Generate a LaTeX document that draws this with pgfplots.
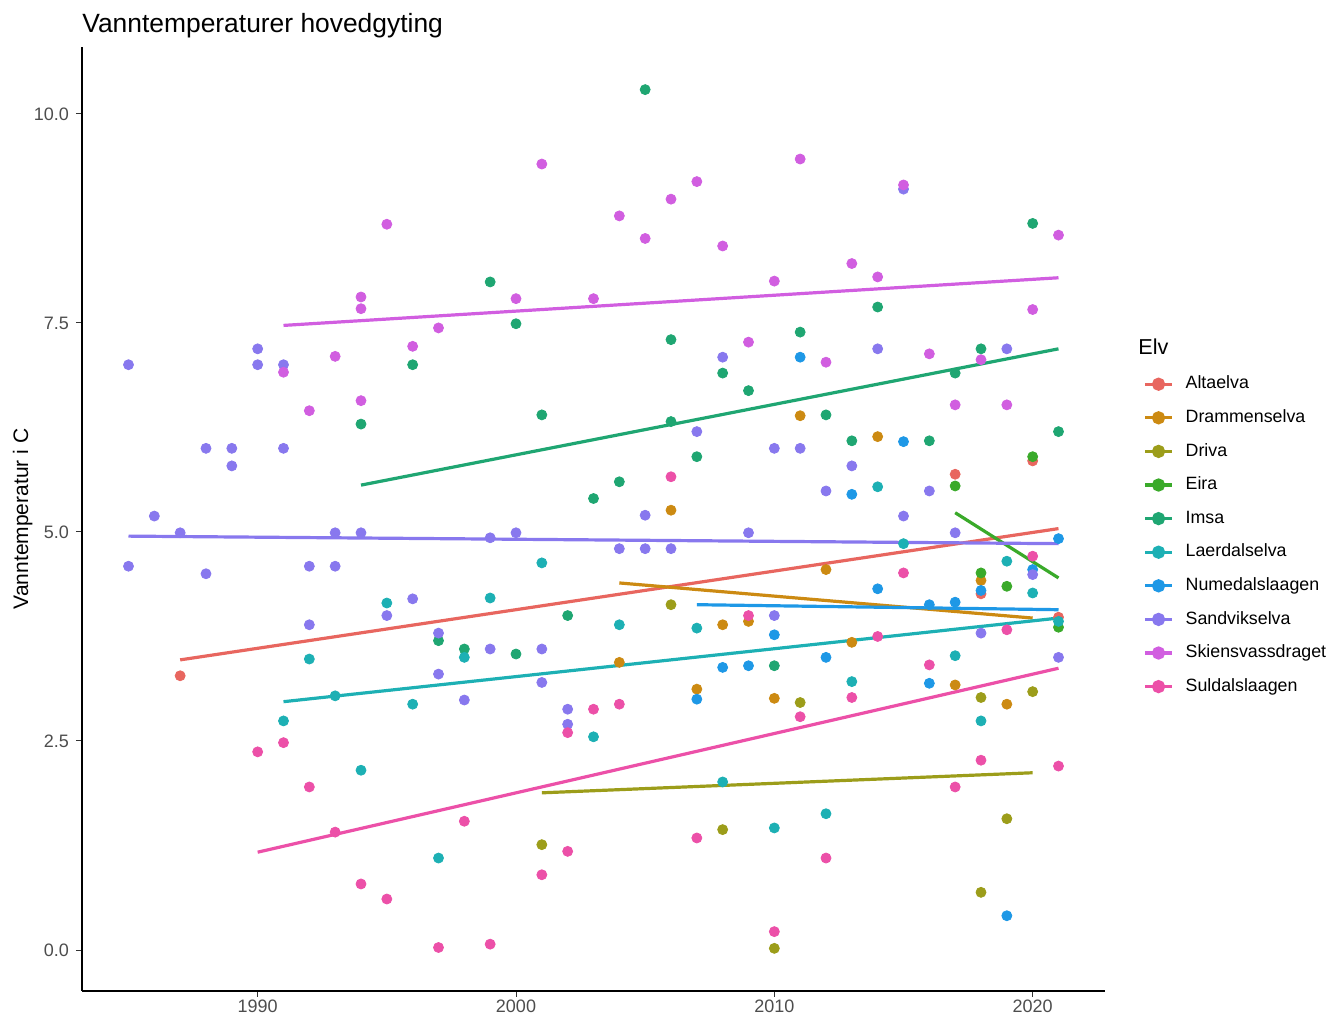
\documentclass[border=0pt]{standalone}
\usepackage{pgfplots}
\pgfplotsset{compat=1.18}
\usepackage{fontspec}
\setmainfont{Liberation Sans}
\definecolor{alta}{HTML}{E8665F}
\definecolor{dram}{HTML}{CC8A12}
\definecolor{driv}{HTML}{9C9D1A}
\definecolor{eira}{HTML}{3AAA2A}
\definecolor{imsa}{HTML}{1FA672}
\definecolor{laer}{HTML}{1DB0B4}
\definecolor{nume}{HTML}{1E98E6}
\definecolor{sand}{HTML}{8878EE}
\definecolor{skie}{HTML}{D15EE0}
\definecolor{suld}{HTML}{EC50A8}
\definecolor{tickgray}{HTML}{4D4D4D}
\begin{document}
\begin{tikzpicture}
\useasboundingbox (0,0) rectangle (670pt,508pt);
\begin{axis}[
  at={(41pt,12.5pt)}, anchor=south west,
  scale only axis, width=511.5pt, height=472pt,
  xmin=1983.2, xmax=2022.8, ymin=-0.49, ymax=10.80,
  axis lines=left, axis line style={-, line width=0.7pt, black},
  xtick={1990,2000,2010,2020}, ytick={0,2.5,5,7.5,10},
  tick align=outside, major tick length=3pt,
  tick style={line width=0.5pt, color=black!80},
  /pgf/number format/assume math mode=true,
  xticklabel style={font=\fontsize{9}{10}\selectfont, text=tickgray, yshift=2pt, /pgf/number format/set thousands separator={}},
  yticklabel style={font=\fontsize{9}{10}\selectfont, text=tickgray, /pgf/number format/fixed, /pgf/number format/fixed zerofill, /pgf/number format/precision=1},
  ylabel={Vanntemperatur i C},
  ylabel style={at={(axis description cs:-0.058,0.5)}, anchor=center, font=\fontsize{10.5}{12}\selectfont},
  title={Vanntemperaturer hovedgyting},
  title style={at={(axis description cs:0,1)}, anchor=base west, inner xsep=0pt, yshift=1pt, font=\fontsize{13.2}{15}\selectfont},
  legend style={at={(axis description cs:1.0372,0.652)}, anchor=north west, draw=none, fill=none, inner sep=0pt,
    row sep=8.5pt, font=\fontsize{8.9}{10}\selectfont,
    nodes={inner sep=0pt, text height=6.5pt, text depth=1.8pt}},
  legend cell align=left,
  legend image code/.code={\draw[mark repeat=2,mark phase=2,#1] plot coordinates {(0pt,0pt) (6.75pt,0pt) (13.5pt,0pt)}; \path (19.5pt,0pt);},
  every axis plot/.append style={mark size=2.5pt},
]
% points
\addplot[only marks, mark=*, color=alta, forget plot] coordinates {(1987,3.28) (2017,5.69) (2018,4.26) (2020,5.85) (2021,3.98)};
\addplot[only marks, mark=*, color=dram, forget plot] coordinates {(2004,3.44) (2006,5.26) (2007,3.12) (2008,3.89) (2009,3.93) (2010,3.01) (2011,6.39) (2012,4.55) (2013,3.68) (2014,6.14) (2017,3.17) (2018,4.42) (2019,2.94)};
\addplot[only marks, mark=*, color=driv, forget plot] coordinates {(2001,1.26) (2006,4.13) (2008,1.44) (2010,0.02) (2011,2.96) (2018,3.02) (2018,0.69) (2019,1.57) (2020,3.09)};
\addplot[only marks, mark=*, color=eira, forget plot] coordinates {(2017,5.55) (2018,4.51) (2019,4.35) (2020,5.90) (2021,3.86)};
\addplot[only marks, mark=*, color=imsa, forget plot] coordinates {(1994,6.29) (1996,7.00) (1997,3.70) (1998,3.60) (1999,7.99) (2000,7.49) (2000,3.54) (2001,6.40) (2002,4.00) (2003,5.40) (2004,5.60) (2005,10.29) (2006,7.30) (2006,6.32) (2007,5.90) (2008,6.90) (2009,6.69) (2010,3.40) (2011,7.39) (2012,6.40) (2013,6.09) (2014,7.69) (2016,6.09) (2017,6.90) (2018,7.19) (2020,8.69) (2021,6.20)};
\addplot[only marks, mark=*, color=laer, forget plot] coordinates {(1991,2.74) (1992,3.48) (1993,3.04) (1994,2.15) (1995,4.15) (1996,2.94) (1997,1.10) (1998,3.50) (1999,4.21) (2001,4.63) (2003,2.55) (2004,3.89) (2007,3.85) (2008,2.01) (2010,1.46) (2012,1.63) (2013,3.21) (2014,5.54) (2015,4.86) (2017,3.52) (2018,2.74) (2019,4.65) (2020,4.27) (2021,3.93)};
\addplot[only marks, mark=*, color=nume, forget plot] coordinates {(2007,3.00) (2008,3.38) (2009,3.40) (2010,3.77) (2011,7.09) (2012,3.50) (2013,5.45) (2014,4.32) (2015,6.08) (2016,3.19) (2016,4.13) (2017,4.16) (2018,4.30) (2019,0.41) (2020,4.55) (2021,4.92)};
\addplot[only marks, mark=*, color=sand, forget plot] coordinates {(1985,7.00) (1985,4.59) (1986,5.19) (1987,4.99) (1988,6.00) (1988,4.50) (1989,6.00) (1989,5.79) (1990,7.19) (1990,7.00) (1991,7.00) (1991,6.00) (1992,4.59) (1992,3.89) (1993,4.99) (1993,4.59) (1994,4.99) (1995,4.00) (1996,4.20) (1997,3.79) (1997,3.30) (1998,2.99) (1999,4.93) (1999,3.60) (2000,4.99) (2001,3.60) (2001,3.20) (2002,2.88) (2002,2.70) (2004,4.80) (2005,5.20) (2005,4.80) (2006,4.80) (2007,6.20) (2008,7.09) (2009,4.99) (2010,6.00) (2010,4.00) (2011,6.00) (2012,5.49) (2013,5.79) (2014,7.19) (2015,5.19) (2015,9.10) (2016,5.49) (2017,4.99) (2018,3.79) (2019,7.19) (2020,4.49) (2021,3.50)};
\addplot[only marks, mark=*, color=skie, forget plot] coordinates {(1991,6.91) (1992,6.45) (1993,7.10) (1994,7.81) (1994,7.67) (1994,6.57) (1995,8.68) (1996,7.22) (1997,7.44) (2000,7.79) (2001,9.40) (2003,7.79) (2004,8.78) (2005,8.51) (2006,8.98) (2007,9.19) (2008,8.42) (2009,7.27) (2010,8.00) (2011,9.46) (2012,7.03) (2013,8.21) (2014,8.05) (2015,9.15) (2016,7.13) (2017,6.52) (2018,7.06) (2019,6.52) (2020,7.66) (2021,8.55)};
\addplot[only marks, mark=*, color=suld, forget plot] coordinates {(1990,2.37) (1991,2.48) (1992,1.95) (1993,1.41) (1994,0.79) (1995,0.61) (1997,0.03) (1998,1.54) (1999,0.07) (2001,0.90) (2002,1.18) (2002,2.60) (2003,2.88) (2004,2.94) (2006,5.66) (2007,1.34) (2009,4.00) (2010,0.22) (2011,2.79) (2012,1.10) (2013,3.02) (2014,3.75) (2015,4.51) (2016,3.41) (2017,1.95) (2018,2.27) (2019,3.83) (2020,4.71) (2021,2.20)};
% trend lines
\addplot[no marks, line width=1.6pt, color=alta, forget plot] coordinates {(1987,3.47) (2021,5.04)};
\addplot[no marks, line width=1.6pt, color=dram, forget plot] coordinates {(2004,4.39) (2020,3.97)};
\addplot[no marks, line width=1.6pt, color=driv, forget plot] coordinates {(2001,1.88) (2020,2.12)};
\addplot[no marks, line width=1.6pt, color=eira, forget plot] coordinates {(2017,5.23) (2021,4.45)};
\addplot[no marks, line width=1.6pt, color=imsa, forget plot] coordinates {(1994,5.56) (2021,7.19)};
\addplot[no marks, line width=1.6pt, color=laer, forget plot] coordinates {(1991,2.97) (2021,3.97)};
\addplot[no marks, line width=1.6pt, color=nume, forget plot] coordinates {(2007,4.13) (2021,4.07)};
\addplot[no marks, line width=1.6pt, color=sand, forget plot] coordinates {(1985,4.95) (2021,4.86)};
\addplot[no marks, line width=1.6pt, color=skie, forget plot] coordinates {(1991,7.47) (2021,8.04)};
\addplot[no marks, line width=1.6pt, color=suld, forget plot] coordinates {(1990,1.17) (2021,3.37)};
% legend
\addlegendimage{alta, line width=1.6pt, mark=*, mark size=2.5pt}\addlegendentry{Altaelva}
\addlegendimage{dram, line width=1.6pt, mark=*, mark size=2.5pt}\addlegendentry{Drammenselva}
\addlegendimage{driv, line width=1.6pt, mark=*, mark size=2.5pt}\addlegendentry{Driva}
\addlegendimage{eira, line width=1.6pt, mark=*, mark size=2.5pt}\addlegendentry{Eira}
\addlegendimage{imsa, line width=1.6pt, mark=*, mark size=2.5pt}\addlegendentry{Imsa}
\addlegendimage{laer, line width=1.6pt, mark=*, mark size=2.5pt}\addlegendentry{Laerdalselva}
\addlegendimage{nume, line width=1.6pt, mark=*, mark size=2.5pt}\addlegendentry{Numedalslaagen}
\addlegendimage{sand, line width=1.6pt, mark=*, mark size=2.5pt}\addlegendentry{Sandvikselva}
\addlegendimage{skie, line width=1.6pt, mark=*, mark size=2.5pt}\addlegendentry{Skiensvassdraget}
\addlegendimage{suld, line width=1.6pt, mark=*, mark size=2.5pt}\addlegendentry{Suldalslaagen}
\end{axis}
\node[anchor=west, font=\fontsize{10.8}{12}\selectfont, inner sep=0pt] at (569pt,334.5pt) {Elv};
\end{tikzpicture}
\end{document}
